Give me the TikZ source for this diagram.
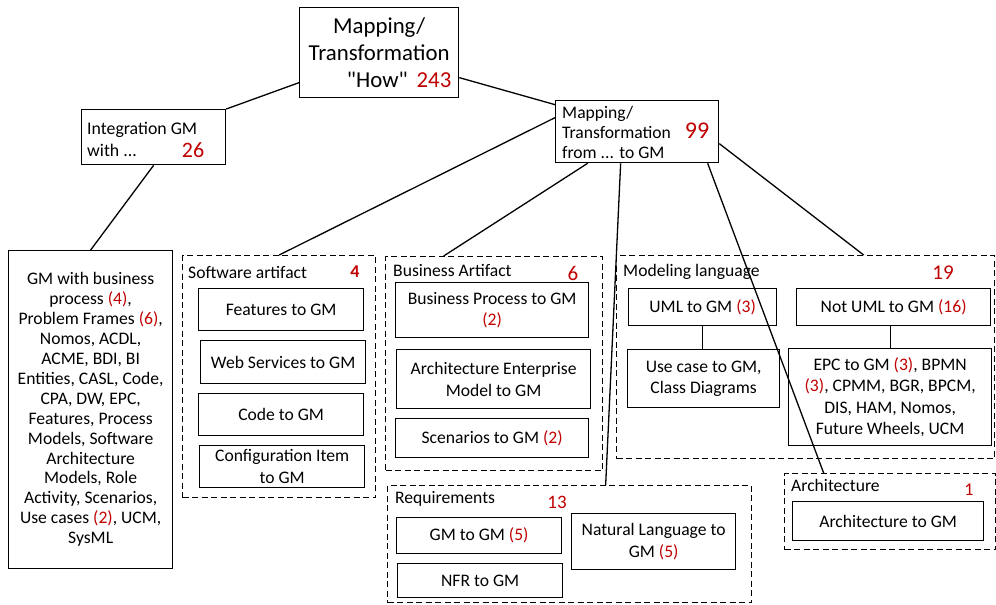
\documentclass[tikz,border=0pt]{standalone}
\usepackage{fontspec}
\setmainfont{Carlito}
\newfontfamily\qf{Carlito}[Ligatures=TeXOff]
\usetikzlibrary{calc}
\definecolor{numred}{HTML}{C00000}
\newcommand{\rn}[1]{\textcolor{numred}{#1}}
\begin{document}
\begin{tikzpicture}[x=1pt,y=-1pt,
 box/.style={draw, line width=1.3pt, inner sep=0pt, align=center, anchor=north west, font=\fontsize{17.6}{21.6}\selectfont},
 dbox/.style={draw, line width=1.3pt, dash pattern=on 6pt off 3.5pt, inner sep=0pt, anchor=north west},
 ttl/.style={anchor=west, inner sep=0pt, font=\fontsize{17.6}{21}\selectfont},
 num/.style={text=numred, inner sep=0pt},
 link/.style={line width=1.3pt}]
\useasboundingbox (0,0) rectangle (996,605);

% top level
\node[box, minimum width=159pt, minimum height=90pt, font=\fontsize{22.8}{27}\selectfont] (top) at (299,7)
  {Mapping/\\Transformation\\\hspace*{40pt}{\qf "How"}\hspace{9pt}\rn{243}};

\node[box, minimum width=144pt, minimum height=55pt] (integ) at (81,109) {};
\node[ttl, align=left, font=\fontsize{17.8}{22}\selectfont] (integt) at (87,139) {Integration GM\\with ...};
\node[num, font=\fontsize{22}{24}\selectfont] (integn) at (193,150) {26};

\node[box, minimum width=163pt, minimum height=62pt] (m99) at (555,100) {};
\node[ttl, align=left, font=\fontsize{17.6}{20}\selectfont] (m99t) at (562,132) {Mapping/\\Transformation\\from ... to GM};
\node[num, font=\fontsize{24}{26}\selectfont] (m99n) at (697,131) {99};

% GM with ...
\node[box, minimum width=164pt, minimum height=318pt, font=\fontsize{17.6}{19.9}\selectfont] (gm) at (8,250)
  {GM with business\\process \rn{(4)},\\Problem Frames \rn{(6)},\\Nomos, ACDL,\\ACME, BDI, BI\\Entities, CASL, Code,\\CPA, DW, EPC,\\Features, Process\\Models, Software\\Architecture\\Models, Role\\Activity, Scenarios,\\Use cases \rn{(2)}, UCM,\\SysML};

% Software artifact
\node[dbox, minimum width=193pt, minimum height=242pt] (sw) at (182,255) {};
\node[ttl] (swt) at (188,272) {Software artifact};
\node[num, font=\bfseries\fontsize{18}{20}\selectfont] (swn) at (355,272) {4};
\node[box, minimum width=165pt, minimum height=42pt] (feat) at (198,288) {Features to GM};
\node[box, minimum width=165pt, minimum height=43pt] (web) at (200,340) {Web Services to GM};
\node[box, minimum width=165pt, minimum height=42pt] (code) at (198,393) {Code to GM};
\node[box, minimum width=165pt, minimum height=42pt] (conf) at (199,445) {Configuration Item\\to GM};

% Business artifact
\node[dbox, minimum width=217pt, minimum height=214pt] (ba) at (385,256) {};
\node[ttl] (bat) at (393,270) {Business Artifact};
\node[num, font=\fontsize{21}{23}\selectfont] (ban) at (573,273) {6};
\node[box, minimum width=193pt, minimum height=55pt] (bp) at (395,282) {Business Process to GM\\\rn{(2)}};
\node[box, minimum width=194pt, minimum height=59pt] (ae) at (396,349) {Architecture Enterprise\\Model to GM};
\node[box, minimum width=193pt, minimum height=39pt] (sc) at (395,418) {Scenarios to GM \rn{(2)}};

% Modeling language
\node[dbox, minimum width=378pt, minimum height=203pt] (ml) at (616,255) {};
\node[ttl] (mlt) at (623,272) {Modeling language};
\node[num, font=\fontsize{21}{23}\selectfont] (mln) at (943,273) {19};
\node[box, minimum width=148pt, minimum height=37pt] (uml) at (628,288) {UML to GM \rn{(3)}};
\node[box, minimum width=194pt, minimum height=37pt] (numl) at (796,288) {Not UML to GM \rn{(16)}};
\node[box, minimum width=152pt, minimum height=58pt] (uc) at (627,349) {Use case to GM,\\Class Diagrams};
\node[box, minimum width=203pt, minimum height=97pt] (epc) at (788,348) {EPC to GM \rn{(3)}, BPMN\\\rn{(3)}, CPMM, BGR, BPCM,\\DIS, HAM, Nomos,\\Future Wheels, UCM};

% Requirements
\node[dbox, minimum width=364pt, minimum height=117pt] (req) at (387,485) {};
\node[ttl] (reqt) at (395,499) {Requirements};
\node[num, font=\fontsize{19}{21}\selectfont] (reqn) at (557,502) {13};
\node[box, minimum width=165pt, minimum height=36pt] (g2g) at (396,517) {GM to GM \rn{(5)}};
\node[box, minimum width=165pt, minimum height=34pt] (nfr) at (397,563) {NFR to GM};
\node[box, minimum width=164pt, minimum height=56pt] (nl) at (571,513) {Natural Language to\\GM \rn{(5)}};

% Architecture
\node[dbox, minimum width=211pt, minimum height=76pt] (arch) at (784,473) {};
\node[ttl] (archt) at (791,485) {Architecture};
\node[num, font=\fontsize{18}{20}\selectfont] (archn) at (969,490) {1};
\node[box, minimum width=191pt, minimum height=39pt] (a2g) at (792,501) {Architecture to GM};

% connectors
\draw[link] ([yshift=-30pt]top.west) -- (integ.north east);
\draw[link] ([yshift=-25pt]top.east) -- ([yshift=27pt]m99.west);
\draw[link] (integ.south) -- (gm.north);
\draw[link] ([yshift=14pt]m99.west) -- (sw.north);
\draw[link] ([xshift=-49.5pt]m99.south) -- ([xshift=-50.5pt]ba.north);
\draw[link] ([xshift=-16.5pt]m99.south) -- ([xshift=36pt]req.north);
\draw[link] ([xshift=70.5pt]m99.south) -- ([xshift=-66.5pt]arch.north);
\draw[link] ([yshift=-12pt]m99.east) -- ([xshift=58pt]ml.north);
\draw[link] (uml.south) -- (uml.south |- uc.north);
\draw[link] (epc.north |- numl.south) -- (epc.north);
\end{tikzpicture}
\end{document}
